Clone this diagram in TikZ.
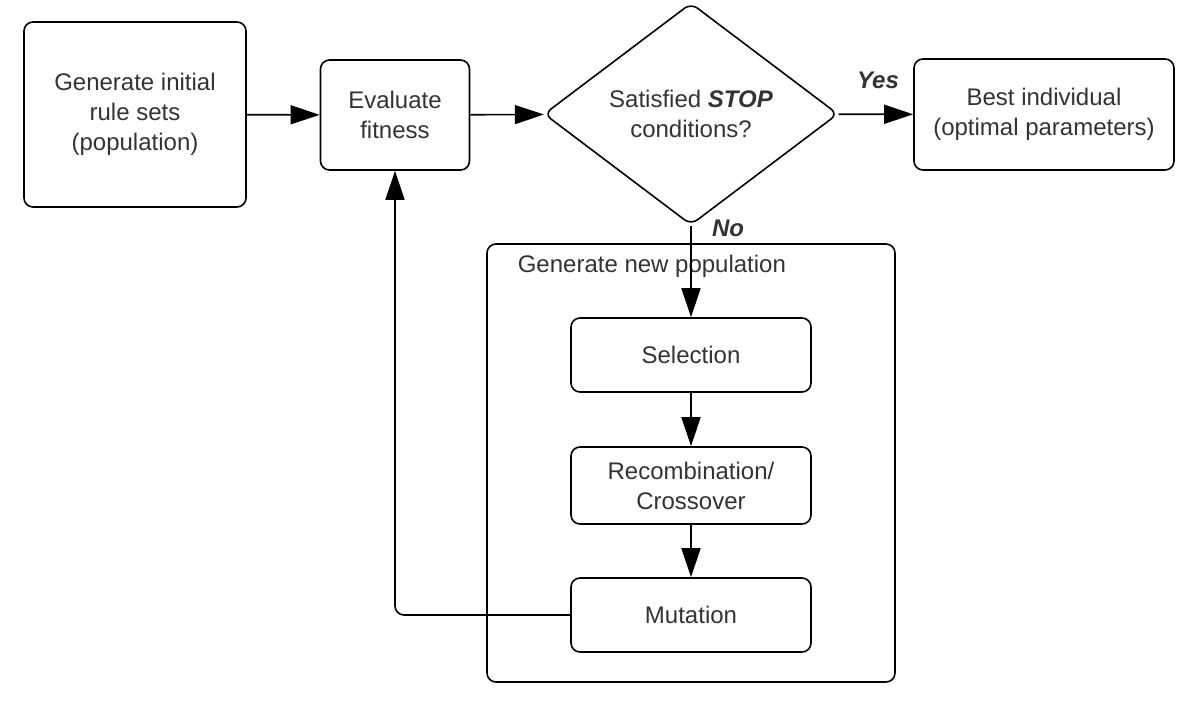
\documentclass[tikz,border=0pt]{standalone}
\usepackage{fontspec}
\setmainfont{Liberation Sans}
\usepackage{tikz}
\usetikzlibrary{arrows.meta}
\usetikzlibrary{positioning}
\usetikzlibrary{shapes.geometric}

\begin{document}
\begin{tikzpicture}[x=1pt,y=-1pt,>={Triangle[length=29pt,width=19pt]},line width=1.6pt,
  main node/.style={rectangle,rounded corners=9pt,draw,align=center,text=black!80,font=\fontsize{24}{30}\selectfont},
  cond node/.style={diamond,rounded corners=8pt,draw,align=center,text=black!80,font=\fontsize{24}{30}\selectfont,minimum width=294pt,minimum height=222pt,inner sep=0pt},
  lbl/.style={font=\fontsize{24}{29}\selectfont\bfseries\itshape,text=black!80,inner sep=0pt}]

  \useasboundingbox (0,0) rectangle (1192,710);

  % outer frame for the inner loop
  \node[draw,rounded corners=9pt,minimum width=408pt,minimum height=438pt] (pop) at (691,463) {};
  \node[anchor=west,inner sep=0pt,text=black!80,font=\fontsize{24}{29}\selectfont] (poplbl) at (517,266) {Generate new population};

  \node[main node,minimum width=222pt,minimum height=185pt] (init) at (135,114.5) {Generate initial\\rule sets\\(population)};
  \node[main node,minimum width=149pt,minimum height=110pt] (eval) at (395,115) {Evaluate\\fitness};
  \node[cond node] (stop) at (691,114) {Satisfied \textbf{\textit{STOP}}\\conditions?};
  \node[main node,minimum width=260pt,minimum height=111pt] (best) at (1044,114.5) {Best individual\\(optimal parameters)};

  \node[main node,minimum width=240pt,minimum height=74pt] (sel) at (691,355) {Selection};
  \node[main node,minimum width=240pt,minimum height=77pt] (rec) at (691,485.5) {Recombination/\\Crossover};
  \node[main node,minimum width=240pt,minimum height=74pt] (mut) at (691,615) {Mutation};

  \node[lbl] (yes) at (878,80) {Yes};
  \node[lbl] (no) at (728,228) {No};

  \draw[->] (init) -- (eval);
  \draw[->] (eval) -- (stop);
  \draw[->] (stop) -- (best);
  \draw[->] (stop) -- (sel);
  \draw[->] (sel) -- (rec);
  \draw[->] (rec) -- (mut);
  \draw[->,rounded corners=9pt] (mut.west) -| (eval.south);
\end{tikzpicture}
\end{document}
